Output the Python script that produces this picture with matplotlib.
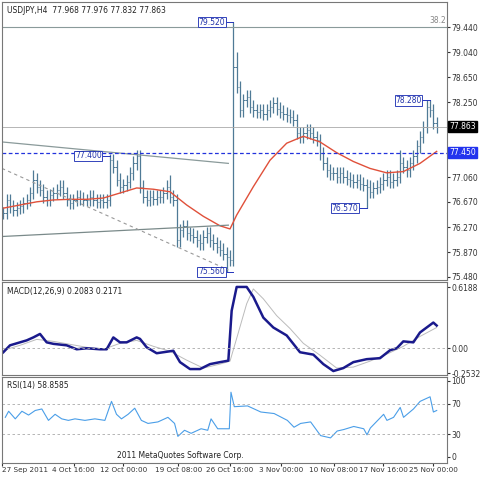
import matplotlib
matplotlib.use("Agg")
import matplotlib.pyplot as plt
import numpy as np

closes = [76.49,76.70,76.60,76.54,76.57,76.60,76.65,76.70,76.81,
 77.02,76.91,76.86,76.75,76.70,76.78,76.81,76.86,76.91,76.81,
 76.70,76.65,76.70,76.75,76.72,76.70,76.70,76.75,76.70,76.67,
 76.70,76.67,76.70,77.33,77.23,77.02,76.91,76.94,76.99,77.12,
 77.28,77.39,76.91,76.75,76.70,76.75,76.72,76.75,76.75,76.81,
 76.91,76.75,76.70,76.06,76.22,76.28,76.17,76.15,76.12,76.06,
 76.01,76.12,76.17,76.06,76.01,75.96,75.91,75.85,75.80,75.75,
 78.81,78.49,78.12,78.28,78.34,78.18,78.12,78.10,78.12,78.07,
 78.12,78.18,78.23,78.15,78.10,78.07,78.04,78.02,77.97,77.76,
 77.70,77.76,77.81,77.76,77.70,77.65,77.44,77.28,77.17,77.12,
 77.12,77.07,77.12,77.07,77.04,77.01,76.99,77.01,76.96,76.94,
 76.91,76.83,76.89,76.91,76.96,77.02,77.07,76.99,77.02,77.07,
 77.28,77.23,77.17,77.28,77.39,77.55,77.70,77.86,78.18,78.12,
 77.92,77.863]
spike_idx = [9, 32, 39, 40, 50, 67, 68, 69, 70, 72, 109, 119, 127, 128]
spike_val = [77.18, 77.40, 77.40, 77.45, 77.10, 75.56, 75.70, 79.52, 79.05, 78.38, 76.57, 77.50, 78.20, 78.28]

ma_idx = [0,5,10,15,20,25,30,35,40,45,50,55,60,65,68,70,75,80,85,90,95,100,105,110,115,120,125,130]
ma_val = [76.57,76.62,76.67,76.70,76.71,76.71,76.73,76.81,76.89,76.87,76.83,76.62,76.44,76.29,76.24,76.46,76.91,77.33,77.60,77.71,77.62,77.45,77.31,77.20,77.13,77.15,77.28,77.47]

macd_idx = [0,2,5,7,9,11,13,15,19,22,25,29,31,33,35,37,40,41,43,46,49,51,53,56,59,62,65,67.5,68.5,70,73,75,78,81,85,89,93,96,99,102,105,109,113,116,118,120,123,125,127,129,130]
macd_val = [-0.04,0.03,0.06,0.08,0.11,0.145,0.06,0.045,0.03,-0.01,0.0,-0.01,-0.01,0.11,0.06,0.06,0.11,0.095,0.01,-0.05,-0.035,-0.025,-0.14,-0.21,-0.21,-0.16,-0.14,-0.125,0.38,0.62,0.62,0.52,0.31,0.21,0.13,-0.04,-0.064,-0.16,-0.23,-0.2,-0.14,-0.11,-0.1,-0.02,0.0,0.07,0.06,0.16,0.21,0.26,0.23]
sig_idx = [0,5,10,15,20,25,30,35,40,45,50,55,60,65,68,70,73,75,78,82,86,90,95,100,105,110,115,120,125,130]
sig_val = [-0.02,0.03,0.09,0.07,0.04,0.01,-0.01,0.05,0.08,0.02,-0.03,-0.12,-0.2,-0.16,-0.13,0.1,0.45,0.6,0.5,0.33,0.2,0.05,-0.07,-0.2,-0.19,-0.13,-0.06,0.02,0.12,0.21]

rsi_idx = [0,1,3,5,7,9,11,13,15,17,19,21,24,27,30,32,33.5,35,37,39,41,43,46,49,51,52,54,56,59,61,62,64,67.5,68,69,73,77,81,85,87,89,92,95,98,100,102,105,108,109,110,114,115,117,119,120,123,125,128,129,130]
rsi_val = [52,60,50,60,55,61,63,48,56,50,48,50,48,50,48,73,56,50,56,64,48,44,46,52,44,27,35,31,37,35,50,37,37,85,66,67,59,57,48,39,44,46,28,25,34,36,40,37,29,38,56,48,52,65,52,63,73,79,59,61]

date_pos = [-1,20.6,35.6,52.1,67.7,83,98.9,113.9,128.9]
date_lbl = ["27 Sep 2011","4 Oct 16:00","12 Oct 00:00","19 Oct 08:00","26 Oct 16:00","3 Nov 00:00","10 Nov 08:00","17 Nov 16:00","25 Nov 00:00"]
price_ticks = [79.440,79.040,78.650,78.250,77.060,76.670,76.270,75.870,75.480]

fs = 5.5
fig = plt.figure(figsize=(4.8,4.8), dpi=100)
L, R = 2/480, 447/480
def ax_at(top, bot):
    return fig.add_axes([L, 1-bot/480, R-L, (bot-top)/480])
ax = ax_at(2, 280); am = ax_at(282, 375); ar = ax_at(377, 463)
XL = (-0.4, 133.1)
for a in (ax, am, ar):
    a.set_xlim(*XL)
    a.tick_params(axis='both', labelsize=fs, length=2, pad=1, colors='#333')
    a.yaxis.tick_right()
    a.set_xticks([])
    for s in a.spines.values():
        s.set_color('#777'); s.set_linewidth(0.8)

# price bars
c = np.array(closes); o = np.r_[c[0], c[:-1]]
hi = np.maximum(o, c) + 0.1; lo = np.minimum(o, c) - 0.1
for i, v in zip(spike_idx, spike_val):
    if v > c[i]: hi[i] = max(hi[i], v)
    else: lo[i] = min(lo[i], v)
idx = np.arange(len(c))
ax.vlines(idx, lo, hi, color='#4f7a96', lw=0.9)
ax.hlines(o, idx-0.4, idx, color='#4f7a96', lw=0.7)
ax.hlines(c, idx, idx+0.4, color='#4f7a96', lw=0.7)
ax.plot(ma_idx, ma_val, color='#e0503a', lw=1.0)
ax.plot([-0.4, 67.5], [77.62, 77.28], color='#8a9a9a', lw=0.9)
ax.plot([-0.4, 67.5], [76.12, 76.30], color='#7a8a8a', lw=0.9)
ax.plot([-0.4, 67.5], [77.20, 75.59], color='#999', lw=0.8, ls=(0,(3,3)))
ax.axhline(79.45, color='#8a9a9a', lw=0.8)
ax.axhline(77.863, color='#aaa', lw=0.6)
ax.axhline(77.45, color='#2233dd', lw=0.9, ls=(0,(3,2)))
ax.text(132.8, 79.47, "38.2", fontsize=fs, color='#888', ha='right', va='bottom')
ax.set_ylim(75.43, 79.84)
ax.set_yticks(price_ticks)
ax.set_yticklabels([f"{t:.3f}" for t in price_ticks])
for val, col, fc in [(77.863, 'white', 'black'), (77.45, 'white', '#2233ee')]:
    ax.text(1.005, (val-75.43)/(79.84-75.43), f"{val:.3f}", transform=ax.transAxes,
            fontsize=fs, color=col, va='center', ha='left',
            bbox=dict(boxstyle='square,pad=0.15', fc=fc, ec=fc))
for i, v in [(32, 77.40), (69, 79.52), (69, 75.56), (109, 76.57), (128, 78.28)]:
    ax.plot([i-2.5, i], [v, v], color='#2233bb', lw=0.7)
    ax.text(i-2.5, v, f"{v:.3f}", fontsize=fs, ha='right', va='center', color='#2233aa',
            bbox=dict(boxstyle='square,pad=0.1', fc='white', ec='#3344bb', lw=0.7))
ax.text(0.012, 0.985, "USDJPY,H4  77.968 77.976 77.832 77.863", transform=ax.transAxes,
        fontsize=fs, va='top', color='#222')

# MACD
am.plot(sig_idx, sig_val, color='#bbbbbb', lw=0.7)
am.plot(macd_idx, macd_val, color='#1a1a8c', lw=1.8)
am.axhline(0, color='#aaa', lw=0.6, ls=(0,(3,3)))
am.set_ylim(-0.27, 0.67)
am.set_yticks([0.6188, 0.0, -0.2532]); am.set_yticklabels(["0.6188", "0.00", "-0.2532"])
am.text(0.012, 0.95, "MACD(12,26,9) 0.2083 0.2171", transform=am.transAxes, fontsize=fs, va='top', color='#222')

# RSI
ar.plot(rsi_idx, rsi_val, color='#4a9ee8', lw=0.8)
for lv in (70, 30):
    ar.axhline(lv, color='#aaa', lw=0.6, ls=(0,(3,3)))
ar.set_ylim(-8, 105)
ar.set_yticks([100, 70, 30, 0])
ar.text(0.012, 0.95, "RSI(14) 58.8585", transform=ar.transAxes, fontsize=fs, va='top', color='#222')
ar.text(0.4, 0.03, "2011 MetaQuotes Software Corp.", transform=ar.transAxes, fontsize=fs, va='bottom', ha='center', color='#222')
ar.set_xticks(date_pos)
ar.set_xticklabels(date_lbl)
ar.tick_params(axis='x', length=2, labelsize=5.2, pad=1)
for t, lab in zip(ar.get_xticklabels(), date_lbl):
    if lab.startswith("27"): t.set_ha('left')
fig.savefig("out.png", dpi=100)
